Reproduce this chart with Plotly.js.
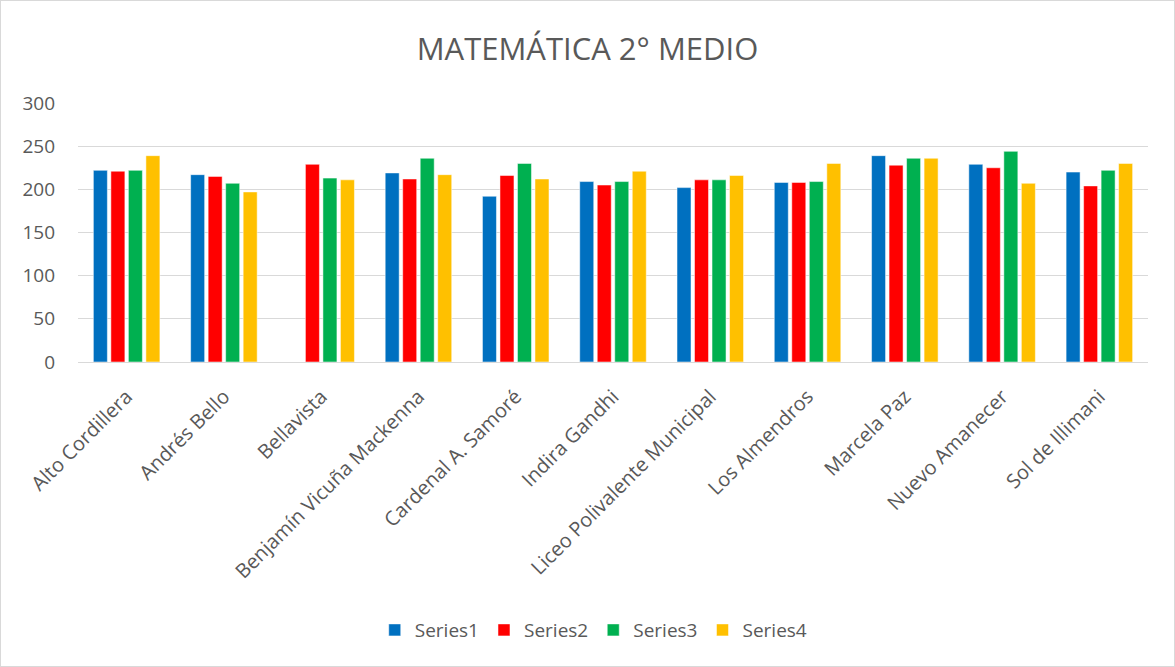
<!DOCTYPE html>
<html>
<head>
<meta charset="utf-8">
<script src="https://cdn.plot.ly/plotly-3.0.1.min.js"></script>
<style>
html,body{margin:0;padding:0;background:#fff;}
#chart{width:1175px;height:667px;box-sizing:border-box;border:1px solid #d9d9d9;}
</style>
</head>
<body>
<div id="chart"></div>
<script>
const categories = ["Alto Cordillera","Andrés Bello","Bellavista","Benjamín Vicuña Mackenna","Cardenal A. Samoré","Indira Gandhi","Liceo Polivalente Municipal","Los Almendros","Marcela Paz","Nuevo Amanecer","Sol de Illimani"];
const series1 = [222,217,null,219,192,209,202,208,239,229,220];
const series2 = [221,215,229,212,216,205,211,208,228,225,204];
const series3 = [222,207,213,236,230,209,211,209,236,244,222];
const series4 = [239,197,211,217,212,221,216,230,236,207,230];
const seriesNames = ["Series1","Series2","Series3","Series4"];
const seriesColors = ["#0070C0","#FF0000","#00B050","#FFC000"];
const yTicks = [0,50,100,150,200,250,300];

const FONT = "'Open Sans', Lato, sans-serif";
const allSeries = [series1,series2,series3,series4];
const traces = allSeries.map((vals,i)=>({
  type:'bar',
  name:seriesNames[i],
  x:categories,
  y:vals,
  marker:{color:seriesColors[i], line:{color:'rgba(255,255,255,0.5)', width:1}},
  hoverinfo:'x+y+name'
}));

const layout = {
  width:1173, height:665,
  margin:{l:77,r:26,t:102,b:304},
  paper_bgcolor:'#fff', plot_bgcolor:'#fff',
  title:{text:'MATEMÁTICA 2° MEDIO', font:{family:FONT, size:31, color:'#595959'}, x:0.5, xanchor:'center', y:0.927, yanchor:'middle'},
  barmode:'group',
  bargap:0.28,
  bargroupgap:0.2,
  showlegend:true,
  legend:{orientation:'h', x:0.482, xanchor:'center', y:-1.035, yanchor:'middle', font:{family:FONT, size:19, color:'#595959'}, itemwidth:30, traceorder:'normal'},
  xaxis:{type:'category', tickangle:-45, tickfont:{family:FONT, size:20, color:'#595959'}, showgrid:false, showline:true, linecolor:'#d9d9d9', linewidth:1, ticks:'', ticklabelstandoff:14, automargin:false},
  yaxis:{range:[0,300], tickvals:yTicks, ticktext:yTicks.map(String), tickfont:{family:FONT, size:19, color:'#595959'}, showgrid:true, gridcolor:'#d9d9d9', gridwidth:1, zeroline:false, showline:false, ticks:'', ticklen:0, ticklabelstandoff:22, automargin:false}
};

Plotly.newPlot('chart', traces, layout, {displayModeBar:false, staticPlot:true});
</script>
</body>
</html>
